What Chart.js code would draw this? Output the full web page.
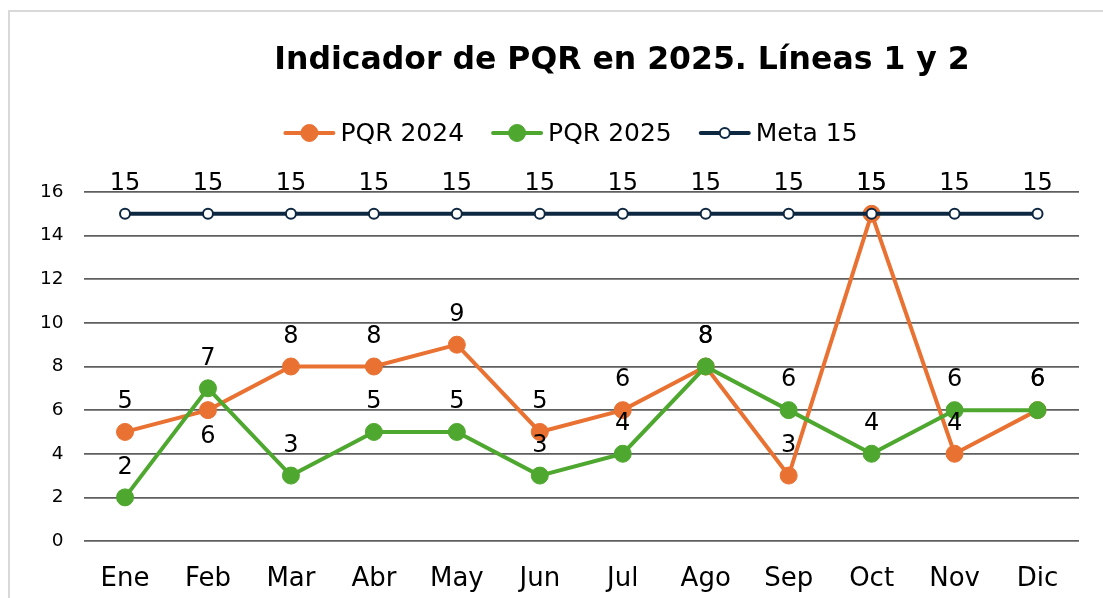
<!DOCTYPE html>
<html>
<head>
<meta charset="utf-8">
<script src="https://cdn.jsdelivr.net/npm/chart.js@4.4.1/dist/chart.umd.min.js"></script>
<style>
    html, body { margin: 0; padding: 0; background: #fff; overflow: hidden; }
    .frame {
        position: absolute;
        left: 8px;
        top: 10px;
        width: 1300px;
        height: 800px;
        border: 2px solid #d9d9d9;
        pointer-events: none;
    }
    #chart { display: block; }
</style>
</head>
<body>
<div class="frame"></div>
<canvas id="chart" width="1103" height="598"></canvas>
<script>
// Chart data
const months = ['Ene', 'Feb', 'Mar', 'Abr', 'May', 'Jun', 'Jul', 'Ago', 'Sep', 'Oct', 'Nov', 'Dic'];
const pqr2024 = [5, 6, 8, 8, 9, 5, 6, 8, 3, 15, 4, 6];
const pqr2025 = [2, 7, 3, 5, 5, 3, 4, 8, 6, 4, 6, 6];
const meta15 = [15, 15, 15, 15, 15, 15, 15, 15, 15, 15, 15, 15];
const yTicks = [0, 2, 4, 6, 8, 10, 12, 14, 16];

const chartTitle = 'Indicador de PQR en 2025. Líneas 1 y 2';
const FONT = '"DejaVu Sans", Verdana, sans-serif';

const ORANGE = '#E97132';
const GREEN = '#4EA72E';
const NAVY = '#0E2841';

// Value labels above each point (PQR 2024 Feb sits below the point)
const valueLabels = {
    id: 'valueLabels',
    afterDatasetsDraw(chart) {
        const ctx = chart.ctx;
        ctx.save();
        ctx.font = '24px ' + FONT;
        ctx.fillStyle = '#000';
        ctx.textAlign = 'center';
        ctx.textBaseline = 'middle';
        // draw in dataset order: meta, 2024, 2025
        [2, 0, 1].forEach(di => {
            const ds = chart.data.datasets[di];
            const meta = chart.getDatasetMeta(di);
            meta.data.forEach((pt, i) => {
                const below = ds.labelBelow && ds.labelBelow.includes(i);
                const dy = below ? 27 : -30;
                ctx.fillText(String(ds.data[i]), pt.x, pt.y + dy);
            });
        });
        ctx.restore();
    }
};

// Title and legend drawn on the canvas
const header = {
    id: 'header',
    afterDraw(chart) {
        const ctx = chart.ctx;
        ctx.save();
        ctx.fillStyle = '#000';
        ctx.textBaseline = 'middle';
        ctx.textAlign = 'center';
        ctx.font = 'bold 31.5px ' + FONT;
        ctx.fillText(chartTitle, 622, 61);

        // legend
        ctx.font = '25px ' + FONT;
        ctx.textAlign = 'left';
        const iconW = 52, textGap = 5, itemGap = 27;
        const items = chart.data.datasets.map(ds => ({
            ds: ds,
            w: iconW + textGap + ctx.measureText(ds.label).width
        }));
        const total = items.reduce((s, it) => s + it.w, 0) + itemGap * (items.length - 1);
        let x = 570.5 - total / 2;
        const y = 133;
        items.forEach(it => {
            const ds = it.ds;
            ctx.strokeStyle = ds.borderColor;
            ctx.lineWidth = ds.borderWidth;
            ctx.lineCap = 'round';
            ctx.beginPath();
            ctx.moveTo(x + 2, y);
            ctx.lineTo(x + iconW - 2, y);
            ctx.stroke();
            ctx.beginPath();
            ctx.arc(x + iconW / 2, y, ds.pointRadius, 0, Math.PI * 2);
            ctx.fillStyle = ds.pointBackgroundColor;
            ctx.fill();
            ctx.lineWidth = ds.pointBorderWidth;
            ctx.strokeStyle = ds.pointBorderColor;
            ctx.stroke();
            ctx.fillStyle = '#000';
            ctx.fillText(ds.label, x + iconW + textGap, y + 1);
            x += it.w + itemGap;
        });
        ctx.restore();
    }
};

new Chart(document.getElementById('chart'), {
    type: 'line',
    data: {
        labels: months,
        datasets: [
            {
                label: 'PQR 2024',
                data: pqr2024,
                borderColor: ORANGE,
                backgroundColor: ORANGE,
                borderWidth: 4,
                pointRadius: 8.5,
                pointBackgroundColor: ORANGE,
                pointBorderColor: ORANGE,
                pointBorderWidth: 1,
                tension: 0,
                order: 2,
                labelBelow: [1]
            },
            {
                label: 'PQR 2025',
                data: pqr2025,
                borderColor: GREEN,
                backgroundColor: GREEN,
                borderWidth: 4,
                pointRadius: 8.5,
                pointBackgroundColor: GREEN,
                pointBorderColor: GREEN,
                pointBorderWidth: 1,
                tension: 0,
                order: 1
            },
            {
                label: 'Meta 15',
                data: meta15,
                borderColor: NAVY,
                backgroundColor: '#fff',
                borderWidth: 4,
                pointRadius: 5,
                pointBackgroundColor: '#fff',
                pointBorderColor: NAVY,
                pointBorderWidth: 2,
                tension: 0,
                order: 0
            }
        ]
    },
    options: {
        responsive: false,
        animation: false,
        layout: {
            padding: { top: 192, right: 24, bottom: 5, left: 20 }
        },
        plugins: {
            legend: { display: false },
            title: { display: false },
            tooltip: { enabled: false }
        },
        scales: {
            x: {
                offset: true,
                grid: { display: false },
                border: { display: false },
                ticks: {
                    color: '#000',
                    font: { family: FONT, size: 26 },
                    padding: 15,
                    maxRotation: 0
                },
                afterFit(scale) {
                    scale.height = 52;
                }
            },
            y: {
                min: 0,
                max: 16,
                afterBuildTicks(scale) {
                    scale.ticks = yTicks.map(v => ({ value: v }));
                },
                grid: {
                    color: '#5f5f5f',
                    lineWidth: 1.7,
                    drawTicks: false
                },
                border: { display: false },
                ticks: {
                    color: '#000',
                    font: { family: FONT, size: 18.5, lineHeight: 1.0 },
                    padding: 20
                }
            }
        }
    },
    plugins: [valueLabels, header]
});
</script>
</body>
</html>
